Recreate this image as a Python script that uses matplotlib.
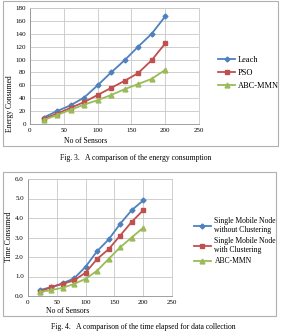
import matplotlib.pyplot as plt
from matplotlib.patches import Rectangle

# data
sensors = [20, 40, 60, 80, 100, 120, 140, 160, 180, 200]

leach = [10, 20, 29, 41, 60, 80, 99, 120, 140, 167]
pso = [8, 16, 25, 34, 45, 56, 67, 79, 99, 125]
abc_energy = [6, 14, 22, 30, 37, 45, 54, 62, 70, 84]

single_no_cluster = [0.3, 0.45, 0.65, 0.9, 1.5, 2.3, 2.9, 3.7, 4.4, 4.9]
single_cluster = [0.22, 0.45, 0.62, 0.8, 1.2, 1.9, 2.4, 3.1, 3.8, 4.4]
abc_time = [0.2, 0.3, 0.42, 0.62, 0.88, 1.3, 1.9, 2.5, 3.0, 3.5]

energy_ticks = [0, 20, 40, 60, 80, 100, 120, 140, 160, 180]
time_ticks = [0.0, 1.0, 2.0, 3.0, 4.0, 5.0, 6.0]
x_ticks = [0, 50, 100, 150, 200, 250]

BLUE = '#4F81BD'
RED = '#C0504D'
GREEN = '#9BBB59'

plt.rcParams['font.family'] = ['Liberation Serif', 'DejaVu Serif']

W, H = 283, 332
fig = plt.figure(figsize=(W / 100, H / 100), dpi=100)


def fx(px):
    return px / W


def fy(py):
    return 1 - py / H


def box(x0, y0, x1, y1):
    fig.patches.append(Rectangle((fx(x0), fy(y1)), fx(x1 - x0), (y1 - y0) / H,
                                 transform=fig.transFigure, fill=False,
                                 edgecolor='#b0b0b0', linewidth=0.8))


def style_axes(ax, yticks, fmt):
    ax.set_xlim(0, 250)
    ax.set_xticks(x_ticks)
    ax.set_yticks(yticks)
    ax.set_yticklabels([fmt.format(v) for v in yticks])
    ax.set_ylim(yticks[0], yticks[-1])
    ax.grid(True, color='#c8c8c8', linewidth=0.6)
    ax.set_axisbelow(True)
    for s in ax.spines.values():
        s.set_color('#c8c8c8')
        s.set_linewidth(0.6)
    ax.spines['left'].set_color('#909090')
    ax.spines['bottom'].set_color('#909090')
    ax.tick_params(labelsize=5, length=0, pad=3)


# ---- Fig. 3 ----
box(3, 1, 278, 146)
ax1 = fig.add_axes([fx(30), fy(124), fx(199 - 30), (124 - 8) / H])
ax1.plot(sensors, leach, color=BLUE, marker='D', markersize=2.5, linewidth=1.3, label='Leach')
ax1.plot(sensors, pso, color=RED, marker='s', markersize=3.5, linewidth=1.3, label='PSO')
ax1.plot(sensors, abc_energy, color=GREEN, marker='^', markersize=3.5, linewidth=1.3, label='ABC-MMN')
style_axes(ax1, energy_ticks, '{:d}')
fig.text(fx(86), fy(141), 'No of Sensors', fontsize=5.5, ha='center', va='center')
fig.text(fx(10), fy(104), 'Energy Consumed', fontsize=5.5, rotation=90, ha='center', va='center')
ax1.legend(loc='center left', bbox_to_anchor=(fx(214), fy(73)), bbox_transform=fig.transFigure,
           frameon=False, fontsize=6, handlelength=2.0, labelspacing=0.55, borderpad=0,
           handletextpad=0.4)
fig.text(fx(136), fy(158), 'Fig. 3.   A comparison of the energy consumption', fontsize=5.5,
         ha='center', va='center')

# ---- Fig. 4 ----
box(3, 172, 276, 316)
ax2 = fig.add_axes([fx(28), fy(296), fx(172 - 28), (296 - 179) / H])
ax2.plot(sensors, single_no_cluster, color=BLUE, marker='D', markersize=2.5, linewidth=1.3,
         label='Single Mobile Node\nwithout Clustering')
ax2.plot(sensors, single_cluster, color=RED, marker='s', markersize=3.5, linewidth=1.3,
         label='Single Mobile Node\nwith Clustering')
ax2.plot(sensors, abc_time, color=GREEN, marker='^', markersize=3.5, linewidth=1.3, label='ABC-MMN')
style_axes(ax2, time_ticks, '{:.1f}')
fig.text(fx(68), fy(311), 'No of Sensors', fontsize=5.5, ha='center', va='center')
fig.text(fx(9), fy(237), 'Time Consumed', fontsize=5.5, rotation=90, ha='center', va='center')
ax2.legend(loc='center left', bbox_to_anchor=(fx(190), fy(241)), bbox_transform=fig.transFigure,
           frameon=False, fontsize=5.5, handlelength=2.2, labelspacing=0.4, borderpad=0,
           handletextpad=0.5)
fig.text(fx(143), fy(327), 'Fig. 4.   A comparison of the time elapsed for data collection',
         fontsize=5.5, ha='center', va='center')

fig.savefig('out.png', dpi=100)
